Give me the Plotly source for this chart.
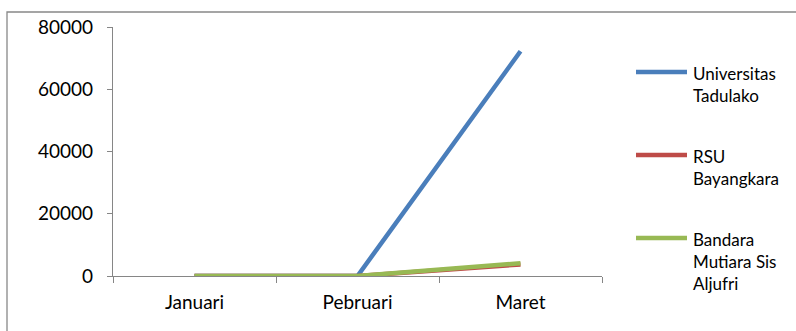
import plotly.graph_objects as go

months = ["Januari", "Pebruari", "Maret"]
series_names = ["Universitas<br>Tadulako", "RSU<br>Bayangkara", "Bandara<br>Mutiara Sis<br>Aljufri"]
universitas = [0, 0, 72200]
rsu = [0, 0, 3700]
bandara = [0, 0, 4100]
series_values = [universitas, rsu, bandara]
colors = ["#4A7EBB", "#BE4B48", "#98B954"]
y_ticks = [0, 20000, 40000, 60000, 80000]
y_tick_labels = ["0", "20000", "40000", "60000", "80000"]

W, H = 796, 331
L, R, T, B = 113, 194, 27, 55
pw, ph = W - L - R, H - T - B

def px_x(x):
    return (x - L) / pw

def px_y(y):
    return (H - B - y) / ph

fig = go.Figure()
for name, vals, col in zip(series_names, series_values, colors):
    fig.add_trace(go.Scatter(x=months, y=vals, mode="lines", name=name,
                             line=dict(color=col, width=4.5), showlegend=False))

family = "Lato, Carlito, Calibri, sans-serif"
font = dict(family=family, size=17, color="#000000")
axfont = dict(family=family, size=19, color="#000000")
axcol = "#868686"

shapes = [
    dict(type="rect", xref="paper", yref="paper", x0=px_x(7), x1=px_x(805),
         y0=px_y(340), y1=px_y(12), line=dict(color="#888888", width=1.3), layer="below"),
]
annotations = []
legend_y = [72, 155, 238]
for name, col, ly in zip(series_names, colors, legend_y):
    shapes.append(dict(type="line", xref="paper", yref="paper",
                       x0=px_x(636), x1=px_x(687), y0=px_y(ly), y1=px_y(ly),
                       line=dict(color=col, width=4.5)))
    annotations.append(dict(text=name, xref="paper", yref="paper",
                            x=px_x(691), y=px_y(ly - 11), xanchor="left", yanchor="top",
                            showarrow=False, align="left", font=font))

fig.update_layout(
    width=W, height=H,
    margin=dict(l=L, r=R, t=T, b=B),
    paper_bgcolor="white", plot_bgcolor="white",
    showlegend=False,
    shapes=shapes, annotations=annotations,
    font=font,
    xaxis=dict(type="category", range=[-0.5, 2.5], showgrid=False, zeroline=False,
               showline=True, linecolor=axcol, linewidth=1.3,
               ticks="outside", tickson="boundaries", ticklen=6, tickcolor=axcol, tickwidth=1.3,
               tickfont=axfont, ticklabelstandoff=9),
    yaxis=dict(range=[0, 80000], tickvals=y_ticks, ticktext=y_tick_labels,
               showgrid=False, zeroline=False,
               showline=True, linecolor=axcol, linewidth=1.3,
               ticks="outside", ticklen=5, tickcolor=axcol, tickwidth=1.3,
               tickfont=axfont, ticklabelstandoff=10),
)

fig.write_html("out.html")
